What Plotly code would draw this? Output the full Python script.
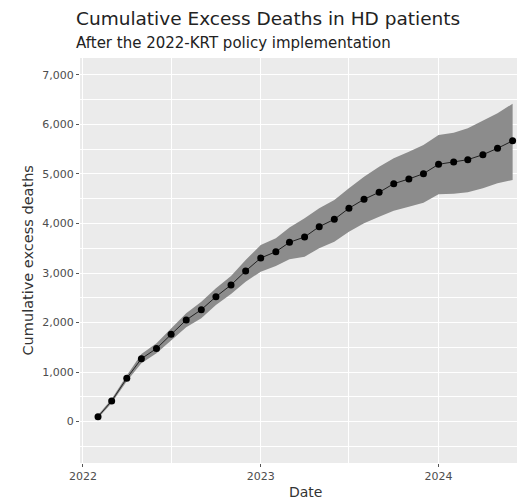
import plotly.graph_objects as go

dates = [
    "2022-02-01", "2022-03-01", "2022-04-01", "2022-05-01", "2022-06-01", "2022-07-01",
    "2022-08-01", "2022-09-01", "2022-10-01", "2022-11-01", "2022-12-01", "2023-01-01",
    "2023-02-01", "2023-03-01", "2023-04-01", "2023-05-01", "2023-06-01", "2023-07-01",
    "2023-08-01", "2023-09-01", "2023-10-01", "2023-11-01", "2023-12-01", "2024-01-01",
    "2024-02-01", "2024-03-01", "2024-04-01", "2024-05-01", "2024-06-01",
]
cum_excess = [97, 414, 873, 1269, 1475, 1765, 2051, 2259, 2521, 2758, 3040, 3303,
              3430, 3620, 3727, 3936, 4084, 4307, 4489, 4630, 4804, 4899, 5006, 5196,
              5242, 5289, 5390, 5519, 5670]
upper_ci = [130, 455, 930, 1364, 1579, 1883, 2186, 2420, 2691, 2939, 3263, 3566,
            3701, 3920, 4105, 4307, 4475, 4711, 4946, 5148, 5317, 5451, 5586, 5790,
            5835, 5923, 6071, 6226, 6420]
lower_ci = [65, 375, 815, 1176, 1377, 1632, 1903, 2085, 2354, 2576, 2824, 3026,
            3141, 3280, 3330, 3499, 3633, 3835, 4004, 4138, 4259, 4340, 4421, 4590,
            4600, 4630, 4711, 4812, 4880]

title_text = "Cumulative Excess Deaths in HD patients"
subtitle_text = "After the 2022-KRT policy implementation"
x_title = "Date"
y_title = "Cumulative excess deaths"

FONT = "DejaVu Sans"

fig = go.Figure()
fig.add_trace(go.Scatter(x=dates, y=upper_ci, mode="lines", line=dict(width=0),
                         showlegend=False, hoverinfo="skip"))
fig.add_trace(go.Scatter(x=dates, y=lower_ci, mode="lines", line=dict(width=0),
                         fill="tonexty", fillcolor="#8c8c8c",
                         showlegend=False, hoverinfo="skip"))
fig.add_trace(go.Scatter(x=dates, y=cum_excess, mode="lines+markers",
                         line=dict(color="#222222", width=1),
                         marker=dict(color="black", size=7),
                         showlegend=False))

fig.update_layout(
    width=517, height=500,
    margin=dict(l=80, r=0, t=58, b=37),
    paper_bgcolor="white",
    plot_bgcolor="#EBEBEB",
    font=dict(family=FONT, color="#4d4d4d", size=11),
    showlegend=False,
    xaxis=dict(
        type="date",
        range=["2021-12-26", "2024-06-10"],
        tickvals=["2022-01-01", "2023-01-01", "2024-01-01"],
        ticktext=["2022", "2023", "2024"],
        showgrid=True, gridcolor="white", gridwidth=1.3,
        minor=dict(tickvals=["2022-07-01", "2023-07-01"], showgrid=True,
                   gridcolor="white", gridwidth=0.6),
        ticks="outside", ticklen=3, tickcolor="#555555", tickwidth=1,
        tickfont=dict(family=FONT, size=11, color="#4d4d4d"),
        zeroline=False, showline=False,
    ),
    yaxis=dict(
        range=[-838, 7343],
        tickvals=[0, 1000, 2000, 3000, 4000, 5000, 6000, 7000],
        tickformat=",",
        showgrid=True, gridcolor="white", gridwidth=1.3,
        minor=dict(dtick=500, tick0=-500, showgrid=True, gridcolor="white", gridwidth=0.6),
        ticks="outside", ticklen=3, tickcolor="#555555", tickwidth=1,
        tickfont=dict(family=FONT, size=11, color="#4d4d4d"),
        zeroline=False, showline=False,
    ),
    annotations=[
        dict(text=title_text, xref="paper", yref="paper", x=(74 - 80) / 437,
             y=(463 - 19) / 405, xanchor="left", yanchor="middle", showarrow=False,
             font=dict(family=FONT, size=18.5, color="#222222")),
        dict(text=subtitle_text, xref="paper", yref="paper", x=(74 - 80) / 437,
             y=(463 - 43) / 405, xanchor="left", yanchor="middle", showarrow=False,
             font=dict(family=FONT, size=15, color="#222222")),
        dict(text=x_title, xref="paper", yref="paper", x=(305 - 80) / 437,
             y=(463 - 492) / 405, xanchor="center", yanchor="middle", showarrow=False,
             font=dict(family=FONT, size=14, color="#333333")),
        dict(text=y_title, xref="paper", yref="paper", x=(27 - 80) / 437,
             y=0.5, xanchor="center", yanchor="middle", showarrow=False, textangle=-90,
             font=dict(family=FONT, size=14.5, color="#333333")),
    ],
)

fig.write_html(
    "out.html",
    config={"displayModeBar": False},
    post_script="document.body.style.margin='0';document.body.style.overflow='hidden';"
                "document.documentElement.style.overflow='hidden';",
)
